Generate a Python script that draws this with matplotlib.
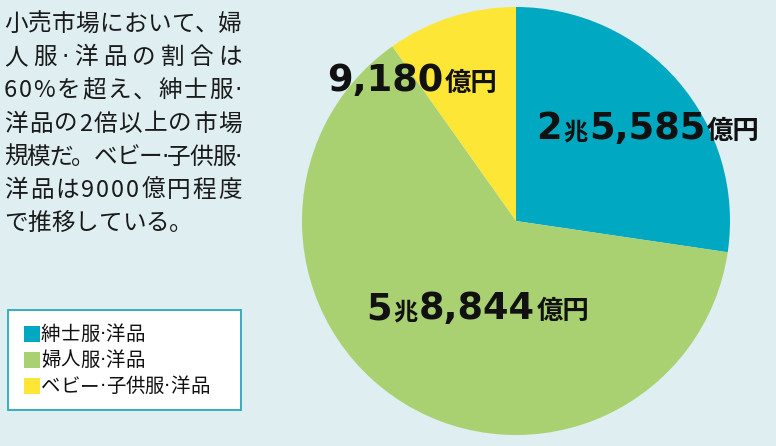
import matplotlib.pyplot as plt
from matplotlib.patches import Rectangle

# market size, 億円
categories = ["紳士服·洋品", "婦人服·洋品", "ベビー·子供服·洋品"]
values = [25585, 58844, 9180]
colors = ["#00a8c1", "#a9d171", "#fde636"]

# value labels split into (text, role) pieces
labels = [
    [("2", "num"), ("兆", "cho"), ("5,585", "num"), ("億円", "oku")],
    [("5", "num"), ("兆", "cho"), ("8,844", "num"), ("億円", "oku")],
    [("9,180", "num"), ("億円", "oku")],
]

note_lines = [
    "小売市場において、婦",
    "人服·洋品の割合は",
    "60%を超え、紳士服·",
    "洋品の2倍以上の市場",
    "規模だ。ベビー·子供服·",
    "洋品は9000億円程度",
    "で推移している。",
]

W, H = 776, 446
BG = "#deeef1"
JP = ["Noto Sans CJK JP", "DejaVu Sans"]
DOT = "·"

fig = plt.figure(figsize=(W / 100, H / 100), dpi=100, facecolor=BG)

# pie: center (516, 221) px, radius 214 px
cx, cy, r = 516, 221, 214
ax = fig.add_axes([(cx - r) / W, (H - cy - r) / H, 2 * r / W, 2 * r / H])
ax.pie(values, colors=colors, startangle=90, counterclock=False,
       radius=1, wedgeprops=dict(linewidth=0))
ax.set_xlim(-1, 1)
ax.set_ylim(-1, 1)
ax.axis("off")

renderer = fig.canvas.get_renderer()
styles = {
    "num": dict(fontsize=26.5, family="DejaVu Sans", weight="bold"),
    "cho": dict(fontsize=17.5, family=JP, weight="bold"),
    "oku": dict(fontsize=19, family=JP, weight="bold"),
}


def put_label(x, y, parts):
    # x, y in pixels from top-left, y is the baseline
    for s, role in parts:
        t = fig.text(x / W, 1 - y / H, s, ha="left", va="baseline",
                     color="#111111", **styles[role])
        x += t.get_window_extent(renderer).width + 1.5


label_pos = [(536, 139), (366, 319), (327, 91)]
for (lx, ly), parts in zip(label_pos, labels):
    put_label(lx, ly, parts)


def char_width(ch, size):
    fam = "DejaVu Sans" if ch == DOT else JP
    t = fig.text(0, 0, ch, fontsize=size, family=fam)
    w = t.get_window_extent(renderer).width
    t.remove()
    return w


def put_line(x, y, s, size, right=None, color="#1a1a1a"):
    # draw char by char so the middle dot stays narrow; stretch to `right` if given
    widths = [char_width(ch, size) for ch in s]
    gap = 0
    if right is not None and len(s) > 1:
        gap = (right - x - sum(widths)) / (len(s) - 1)
    for ch, w in zip(s, widths):
        fam = "DejaVu Sans" if ch == DOT else JP
        fig.text(x / W, 1 - y / H, ch, ha="left", va="baseline",
                 fontsize=size, family=fam, color=color)
        x += w + gap


# note text on the left (justified, last line left-aligned)
for i, line in enumerate(note_lines):
    right = 242 if i < len(note_lines) - 1 else None
    put_line(4, 31 + 33.2 * i, line, 17, right=right)

# legend box
fig.patches.append(Rectangle((8 / W, 1 - 410 / H), 233 / W, 100 / H,
                             transform=fig.transFigure, facecolor="white",
                             edgecolor="#2aa8bc", linewidth=1.3))
row_y = [334, 360, 386]
for name, c, yy in zip(categories, colors, row_y):
    fig.patches.append(Rectangle((24 / W, 1 - (yy + 8) / H), 16 / W, 16 / H,
                                 transform=fig.transFigure, facecolor=c,
                                 edgecolor="none"))
    put_line(41, yy + 6, name, 14, color="#111111")

fig.savefig("out.png", dpi=100, facecolor=BG)
